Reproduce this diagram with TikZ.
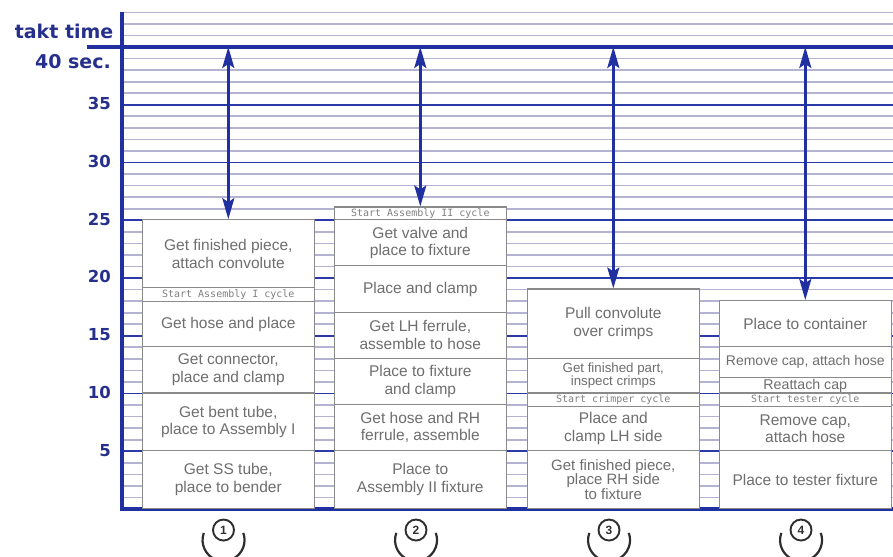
\documentclass[tikz,border=0pt]{standalone}
\usepackage{fontspec}
\setmainfont{Liberation Sans}
\newfontfamily\axisfont{DejaVu Sans}
\newfontfamily\cyclefont{DejaVu Sans Mono}
\usetikzlibrary{arrows.meta}

\definecolor{axisblue}{HTML}{2030A0}
\definecolor{labelblue}{HTML}{26308C}
\definecolor{minorgrid}{HTML}{B4B4D2}
\definecolor{majorgrid}{HTML}{2A3AA8}
\definecolor{boxedge}{HTML}{8A8A8A}
\definecolor{steptext}{HTML}{6E6E6E}
\definecolor{cycletext}{HTML}{808080}
\definecolor{opink}{HTML}{2E2E2E}

% one second of work content = 11.55pt
\def\secpt{11.55pt}

\tikzset{
  minorline/.style={draw=minorgrid, line width=1.7pt},
  majorline/.style={draw=majorgrid, line width=1.8pt},
  taktline/.style={draw=axisblue, line width=3.2pt},
  axisline/.style={draw=axisblue, line width=3.4pt},
  axislabel/.style={font=\axisfont\bfseries\fontsize{16.5}{18}\selectfont, text=labelblue, inner sep=0pt, anchor=east},
  taktlabel/.style={axislabel, font=\axisfont\bfseries\fontsize{19}{21}\selectfont},
  segbox/.style={draw=boxedge, line width=1.1pt, fill=white, minimum width=171.5pt,
    inner xsep=2pt, inner ysep=0pt, align=center, text=steptext,
    font=\fontsize{15.5}{17.5}\selectfont},
  cyclebox/.style={segbox, text=cycletext, font=\cyclefont\fontsize{10}{11}\selectfont},
  taktarrow/.style={draw=axisblue, line width=2.6pt,
    {Stealth[length=21pt,width=12pt,inset=4pt]}-{Stealth[length=21pt,width=12pt,inset=4pt]}},
  opcircle/.style={circle, draw=opink, line width=1.9pt, minimum size=21pt, inner sep=0pt,
    font=\bfseries\fontsize{12}{13}\selectfont, text=opink},
  opline/.style={draw=opink, line width=2.2pt},
}

% [#1 extra keys], #2 name, #3 left edge, #4 start second, #5 end second, #6 text
\newcommand\opseg[6][]{%
  \node[segbox, #1, minimum height={(#5-#4)*\secpt}, anchor=south west] (#2) at (#3,#4) {#6};}
\newcommand\cycseg[5]{%
  \node[cyclebox, minimum height={(#4-#3)*\secpt}, anchor=south west] (#1) at (#2,#3) {#5};}

\begin{document}
\begin{tikzpicture}[x=1pt, y=11.55pt]
\useasboundingbox (0,-4.07) rectangle (893,44.07);

% time grid: one line per second, heavier every five seconds
\foreach \t in {1,...,43} \draw[minorline] (122,\t) -- (893,\t);
\foreach \t in {5,10,...,35} \draw[majorline] (122,\t) -- (893,\t);
\draw[taktline] (87,40) -- (893,40);
\draw[axisline] (122,43) -- (122,0) -- (893,0);
\coordinate (taktref) at (0,40);

% scale labels
\node[taktlabel] (ltakt) at (113.5,41.35) {takt time};
\node[taktlabel] (l40) at (111,38.75) {40 sec.};
\foreach \t in {35,30,...,5} \node[axislabel] (l\t) at (111,\t+0.1) {\t};

% operator 1
\opseg{c1a}{142}{0}{5}{Get SS tube,\\place to bender}
\opseg{c1b}{142}{5}{10}{Get bent tube,\\place to Assembly I}
\opseg{c1c}{142}{10}{14}{Get connector,\\place and clamp}
\opseg{c1d}{142}{14}{17.9}{Get hose and place}
\cycseg{c1e}{142}{17.9}{19.1}{Start Assembly I cycle}
\opseg{c1f}{142}{19.1}{25}{Get finished piece,\\attach convolute}

% operator 2
\opseg{c2a}{334}{0}{5}{Place to\\Assembly II fixture}
\opseg{c2b}{334}{5}{9}{Get hose and RH\\ferrule, assemble}
\opseg{c2c}{334}{9}{13}{Place to fixture\\and clamp}
\opseg{c2d}{334}{13}{17}{Get LH ferrule,\\assemble to hose}
\opseg{c2e}{334}{17}{21}{Place and clamp}
\opseg{c2f}{334}{21}{25}{Get valve and\\place to fixture}
\cycseg{c2g}{334}{25}{26.1}{Start Assembly II cycle}

% operator 3
\opseg[font=\fontsize{15}{14.5}\selectfont]{c3a}{527}{0}{5}{Get finished piece,\\place RH side\\to fixture}
\opseg{c3b}{527}{5}{8.85}{Place and\\clamp LH side}
\cycseg{c3c}{527}{8.85}{10}{Start crimper cycle}
\opseg[font=\fontsize{13.3}{13.5}\selectfont]{c3d}{527}{10}{13}{Get finished part,\\inspect crimps}
\opseg{c3e}{527}{13}{19}{Pull convolute\\over crimps}

% operator 4
\opseg{c4a}{719}{0}{5}{Place to tester fixture}
\opseg{c4b}{719}{5}{8.8}{Remove cap,\\attach hose}
\cycseg{c4c}{719}{8.8}{10}{Start tester cycle}
\opseg[font=\fontsize{14.2}{14}\selectfont]{c4d}{719}{10}{11.3}{Reattach cap}
\opseg[font=\fontsize{14}{14}\selectfont]{c4e}{719}{11.3}{14}{Remove cap, attach hose}
\opseg{c4f}{719}{14}{18}{Place to container}

% gap between each operator's load and takt time
\draw[taktarrow] (c1f.north) -- (c1f.north |- taktref);
\draw[taktarrow] (c2g.north) -- (c2g.north |- taktref);
\draw[taktarrow] (c3e.north) -- (c3e.north |- taktref);
\draw[taktarrow] (c4f.north) -- (c4f.north |- taktref);

% operator symbols: head and shoulders seen from above
\foreach \n/\x in {1/223.5, 2/416, 3/609, 4/801} {
  \node[opcircle] (op\n) at (\x,-1.82) {\n};
  \draw[opline] ([shift={(-19.7,-0.25)}]op\n.center) arc[start angle=160, end angle=380, radius=21pt];
}
\end{tikzpicture}
\end{document}
